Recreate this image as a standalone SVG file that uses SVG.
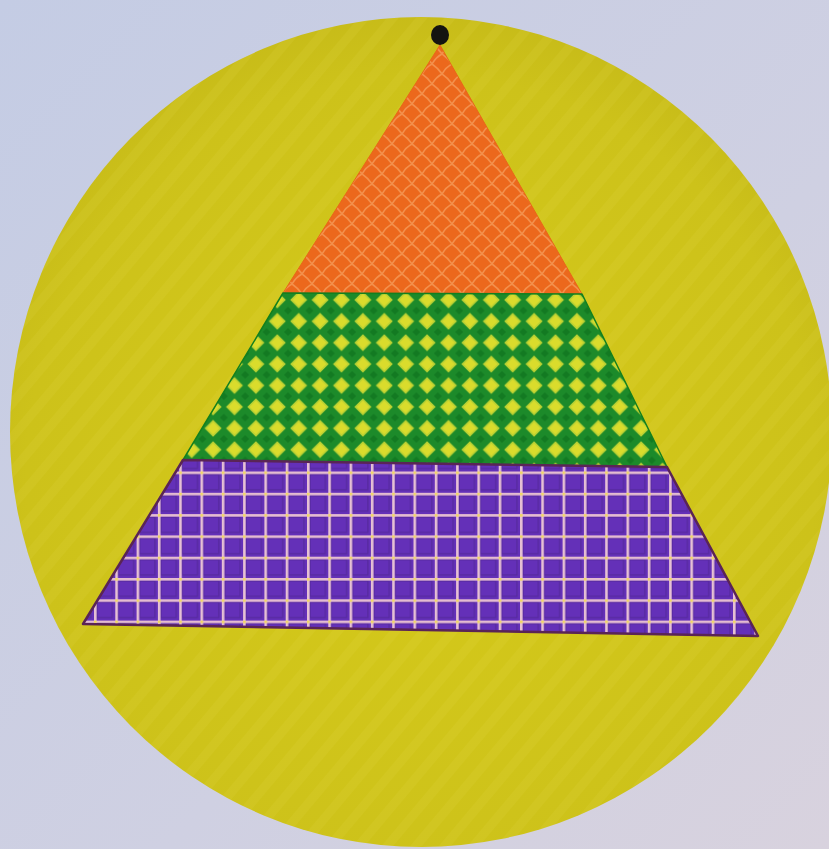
<svg xmlns="http://www.w3.org/2000/svg" width="829" height="849" viewBox="0 0 829 849">
  <defs>
    <linearGradient id="bg" x1="0" y1="0" x2="1" y2="1">
      <stop offset="0" stop-color="#c4cce4"/>
      <stop offset="0.6" stop-color="#cfd0e2"/>
      <stop offset="1" stop-color="#d8d2de"/>
    </linearGradient>
    <radialGradient id="disc" cx="0.5" cy="0.55" r="0.6">
      <stop offset="0" stop-color="#d6ca1a"/>
      <stop offset="0.8" stop-color="#cdc21a"/>
      <stop offset="1" stop-color="#c4b818"/>
    </radialGradient>
    <pattern id="stripes" width="22" height="22" patternUnits="userSpaceOnUse" patternTransform="rotate(40)">
      <rect x="0" y="0" width="9" height="22" fill="#f0e860" opacity="0.1"/>
    </pattern>
    <pattern id="scales" x="2" y="4" width="20" height="20" patternUnits="userSpaceOnUse">
      <rect width="20" height="20" fill="#ec681c"/>
      <path d="M0 10 Q4 3 10 0 M10 20 Q14 13 20 10 M0 10 Q6 14 10 20 M10 0 Q16 4 20 10" fill="none" stroke="#f59a58" stroke-width="1.6" opacity="0.8"/>
    </pattern>
    <pattern id="diamonds" x="288" y="332" width="21.4" height="21.4" patternUnits="userSpaceOnUse">
      <rect width="21.4" height="21.4" fill="#1c8a2a"/>
      <path d="M0 0 L4 0 L0 4 Z M21.4 0 L17.4 0 L21.4 4 Z M0 21.4 L4 21.4 L0 17.4 Z M21.4 21.4 L17.4 21.4 L21.4 17.4 Z" fill="#137a22"/>
      <path d="M10.7 2.2 L19.2 10.7 L10.7 19.2 L2.2 10.7 Z" fill="#bcd232"/>
      <path d="M10.7 4.6 L16.8 10.7 L10.7 16.8 L4.6 10.7 Z" fill="#dadc2c"/>
    </pattern>
    <pattern id="grid" x="307" y="471.5" width="21.3" height="21.3" patternUnits="userSpaceOnUse">
      <rect width="21.3" height="21.3" fill="#6430b8"/>
      <rect x="3" y="3" width="15.3" height="15.3" fill="none" stroke="#56299e" stroke-width="1.2"/>
      <rect x="0" y="0" width="21.3" height="2.6" fill="#e4bcd0"/>
      <rect x="0" y="0" width="2.6" height="21.3" fill="#e6c0d4"/>
      <rect x="0" y="0" width="2.6" height="2.6" fill="#f0d860"/>
    </pattern>
  </defs>
  <style>
    .layer-edge { stroke-linejoin: round; }
  </style>

  <rect id="background" x="0" y="0" width="829" height="849" fill="url(#bg)"/>

  <g id="disc-node">
    <ellipse cx="421" cy="432" rx="411" ry="415" fill="url(#disc)"/>
    <ellipse cx="421" cy="432" rx="411" ry="415" fill="url(#stripes)"/>
  </g>

  <g id="layer-top">
    <polygon class="layer-edge" points="440,45 582,294 283,293" fill="url(#scales)" stroke="#e86818" stroke-width="1"/>
  </g>

  <g id="layer-middle">
    <polygon class="layer-edge" points="283,293 582,294 667,467 183,460" fill="url(#diamonds)" stroke="#12801f" stroke-width="1.5"/>
  </g>

  <g id="layer-bottom">
    <polygon class="layer-edge" points="183,460 667,467 758,636 83,624" fill="url(#grid)" stroke="#5a2456" stroke-width="2.5"/>
  </g>

  <g id="apex-dot">
    <ellipse cx="440" cy="35" rx="9" ry="10" fill="#141410"/>
  </g>

  <g id="connectors"></g>
</svg>
